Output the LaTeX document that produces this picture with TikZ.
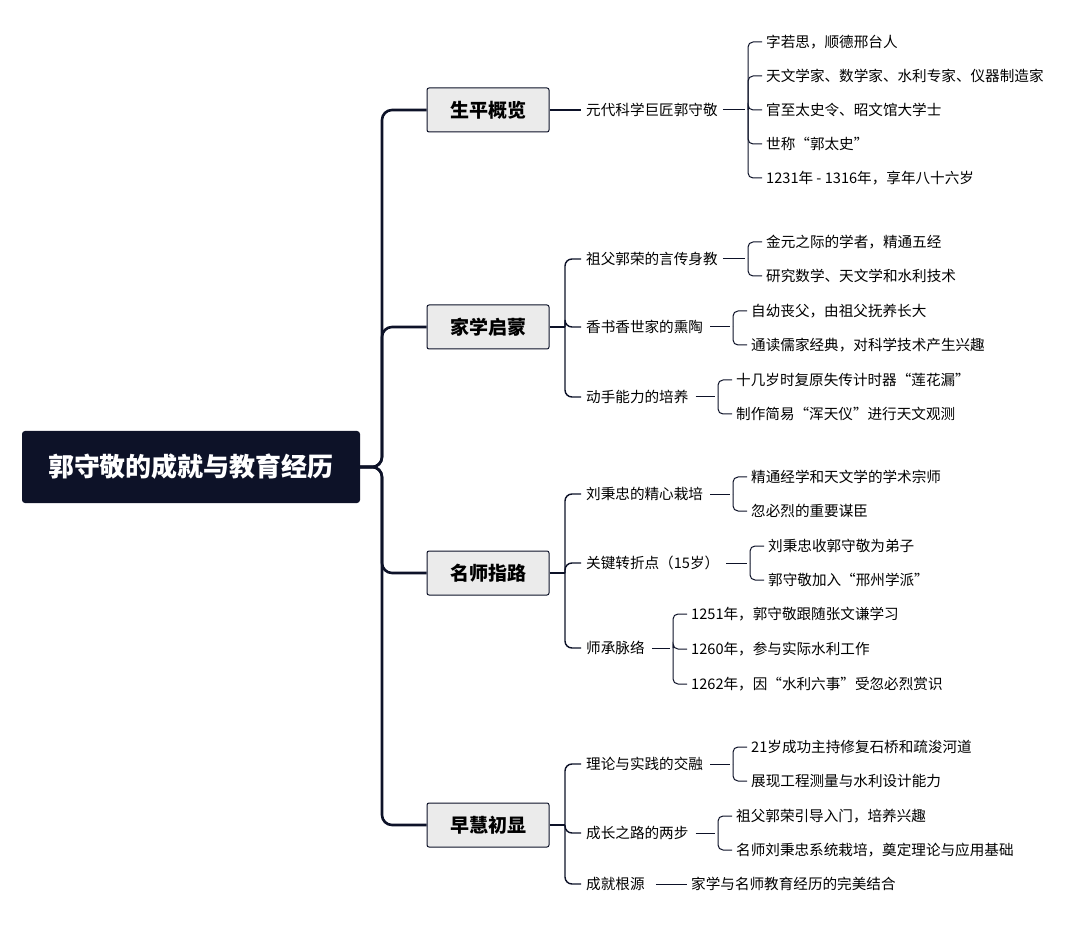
\documentclass[tikz,border=0pt]{standalone}
\usepackage{fontspec}
\newfontfamily\cjk{Noto Sans CJK SC}
\usetikzlibrary{positioning}
\definecolor{navy}{HTML}{0D1228}
\definecolor{boxgray}{HTML}{EBEBEB}
\tikzset{
  root/.style={fill=navy,rounded corners=3pt,minimum width=338pt,minimum height=72pt,
    text=white,font=\cjk\fontsize{26}{30}\selectfont\bfseries},
  topic/.style={draw=navy,fill=boxgray,rounded corners=2pt,line width=1pt,
    minimum width=122pt,minimum height=44pt,font=\cjk\fontsize{19}{22}\selectfont\bfseries},
  sub/.style={anchor=west,inner sep=1pt,font=\cjk\fontsize{14.6}{17}\selectfont},
  leaf/.style={anchor=west,inner sep=1pt,font=\cjk\fontsize{14.6}{17}\selectfont},
  trunk/.style={draw=navy,line width=2.6pt,rounded corners=10pt},
  branch/.style={draw=navy,line width=1.4pt,rounded corners=7pt},
  twig/.style={draw=navy,line width=1pt,rounded corners=5pt,shorten >=3pt},
}
\begin{document}
\begin{tikzpicture}[x=1pt,y=-1pt]
  \useasboundingbox (0,0) rectangle (1080,925);
  % root and topics
  \node[root] (R) at (191,467) {郭守敬的成就与教育经历};
  \node[topic] (T1) at (488,110) {生平概览};
  \node[topic] (T2) at (488,327) {家学启蒙};
  \node[topic] (T3) at (488,573) {名师指路};
  \node[topic] (T4) at (488,825) {早慧初显};
  \foreach \t in {T1,T2,T3,T4}
    \draw[trunk] (R.east) -- (382,467) |- (\t.west);
  % 生平概览
  \node[sub] (A) at (585,110) {元代科学巨匠郭守敬};
  \draw[branch] (T1.east) -- ([xshift=-4pt]A.west);
  \node[leaf] (A1) at (765,42) {字若思，顺德邢台人};
  \node[leaf] (A2) at (765,76) {天文学家、数学家、水利专家、仪器制造家};
  \node[leaf] (A3) at (765,110) {官至太史令、昭文馆大学士};
  \node[leaf] (A4) at (765,144) {世称“郭太史”};
  \node[leaf] (A5) at (765,178) {1231年 - 1316年，享年八十六岁};
  \coordinate (jA) at (748,110);
  \draw[twig] ([xshift=4pt]A.east) -- (jA);
  \foreach \l in {A1,A2,A3,A4,A5} \draw[twig] (jA) |- (\l.west);
  % 家学启蒙
  \coordinate (j2) at (565,327);
  \draw[branch] (T2.east) -- (j2);
  \node[sub] (B) at (585,259) {祖父郭荣的言传身教};
  \node[sub] (C) at (585,327) {香书香世家的熏陶};
  \node[sub] (D) at (585,397) {动手能力的培养};
  \foreach \s in {B,C,D} \draw[branch,shorten >=4pt] (j2) |- (\s.west);
  \node[leaf] (B1) at (765,242) {金元之际的学者，精通五经};
  \node[leaf] (B2) at (765,276) {研究数学、天文学和水利技术};
  \coordinate (jB) at (748,259);
  \draw[twig] ([xshift=4pt]B.east) -- (jB);
  \foreach \l in {B1,B2} \draw[twig] (jB) |- (\l.west);
  \node[leaf] (C1) at (750,311) {自幼丧父，由祖父抚养长大};
  \node[leaf] (C2) at (750,345) {通读儒家经典，对科学技术产生兴趣};
  \coordinate (jC) at (733,327);
  \draw[twig] ([xshift=6pt]C.east) -- (jC);
  \foreach \l in {C1,C2} \draw[twig] (jC) |- (\l.west);
  \node[leaf] (D1) at (735,380) {十几岁时复原失传计时器“莲花漏”};
  \node[leaf] (D2) at (735,414) {制作简易“浑天仪”进行天文观测};
  \coordinate (jD) at (718,397);
  \draw[twig] ([xshift=6pt]D.east) -- (jD);
  \foreach \l in {D1,D2} \draw[twig] (jD) |- (\l.west);
  % 名师指路
  \coordinate (j3) at (565,573);
  \draw[branch] (T3.east) -- (j3);
  \node[sub] (E) at (585,494) {刘秉忠的精心栽培};
  \node[sub] (F) at (585,563) {关键转折点（15岁）};
  \node[sub] (G) at (585,648) {师承脉络};
  \foreach \s in {E,F,G} \draw[branch,shorten >=4pt] (j3) |- (\s.west);
  \node[leaf] (E1) at (750,477) {精通经学和天文学的学术宗师};
  \node[leaf] (E2) at (750,511) {忽必烈的重要谋臣};
  \coordinate (jE) at (733,494);
  \draw[twig] ([xshift=6pt]E.east) -- (jE);
  \foreach \l in {E1,E2} \draw[twig] (jE) |- (\l.west);
  \node[leaf] (F1) at (767,546) {刘秉忠收郭守敬为弟子};
  \node[leaf] (F2) at (767,580) {郭守敬加入“邢州学派”};
  \coordinate (jF) at (750,563);
  \draw[twig] ([xshift=6pt]F.east) -- (jF);
  \foreach \l in {F1,F2} \draw[twig] (jF) |- (\l.west);
  \node[leaf] (G1) at (690,614) {1251年，郭守敬跟随张文谦学习};
  \node[leaf] (G2) at (690,649) {1260年，参与实际水利工作};
  \node[leaf] (G3) at (690,684) {1262年，因“水利六事”受忽必烈赏识};
  \coordinate (jG) at (673,648);
  \draw[twig] ([xshift=6pt]G.east) -- (jG);
  \foreach \l in {G1,G2,G3} \draw[twig] (jG) |- (\l.west);
  % 早慧初显
  \coordinate (j4) at (565,825);
  \draw[branch] (T4.east) -- (j4);
  \node[sub] (H) at (585,764) {理论与实践的交融};
  \node[sub] (I) at (585,833) {成长之路的两步};
  \node[sub] (J) at (585,884) {成就根源};
  \foreach \s in {H,I,J} \draw[branch,shorten >=4pt] (j4) |- (\s.west);
  \node[leaf] (H1) at (750,747) {21岁成功主持修复石桥和疏浚河道};
  \node[leaf] (H2) at (750,781) {展现工程测量与水利设计能力};
  \coordinate (jH) at (733,764);
  \draw[twig] ([xshift=6pt]H.east) -- (jH);
  \foreach \l in {H1,H2} \draw[twig] (jH) |- (\l.west);
  \node[leaf] (I1) at (735,816) {祖父郭荣引导入门，培养兴趣};
  \node[leaf] (I2) at (735,850) {名师刘秉忠系统栽培，奠定理论与应用基础};
  \coordinate (jI) at (718,833);
  \draw[twig] ([xshift=6pt]I.east) -- (jI);
  \foreach \l in {I1,I2} \draw[twig] (jI) |- (\l.west);
  \node[leaf] (J1) at (690,884) {家学与名师教育经历的完美结合};
  \draw[twig] ([xshift=10pt]J.east) -- (J1.west);
\end{tikzpicture}
\end{document}
